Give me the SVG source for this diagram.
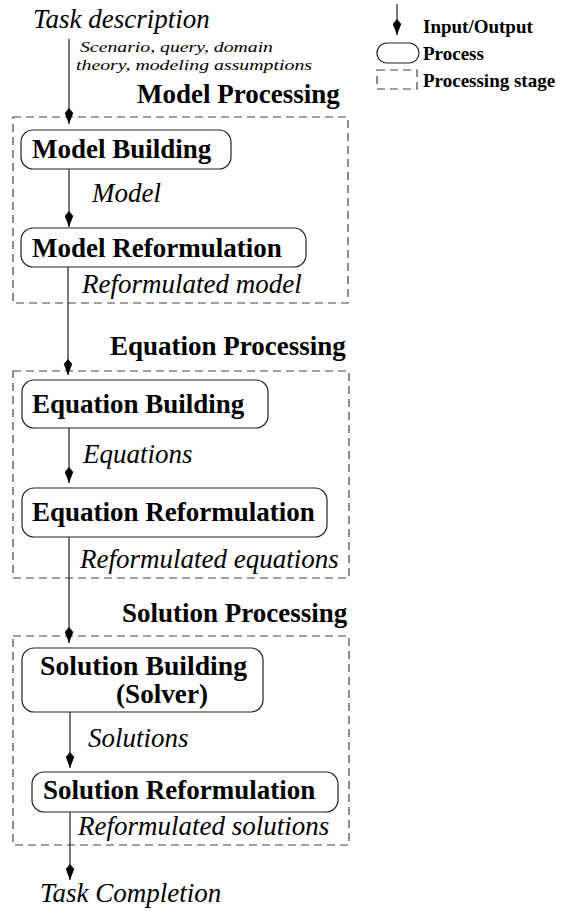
<svg xmlns="http://www.w3.org/2000/svg" width="564" height="911" viewBox="0 0 564 911">
<style>
text{font-family:"Liberation Serif","Times New Roman",serif;fill:#000}
.h{font-size:27px;font-weight:bold}
.b{font-size:27px;font-weight:bold}
.i{font-size:27px;font-style:italic}
.s{font-size:15px;font-style:italic}
.lg{font-size:19px;font-weight:bold}
.box{fill:#fff;stroke:#222;stroke-width:1.2}
.stage{fill:none;stroke:#444;stroke-width:1.2;stroke-dasharray:8 5}
.con{stroke:#222;stroke-width:1.2;fill:none}
</style>
<defs>
<marker id="ah" markerUnits="userSpaceOnUse" viewBox="-17 -5 18 10" refX="0" refY="0" markerWidth="18" markerHeight="10" orient="auto">
<path d="M0,0 L-11,-4.2 L-16,0 L-11,4.2 Z" fill="#000"/>
</marker>
</defs>

<g id="legend">
<line class="con" x1="397" y1="4" x2="397" y2="35" marker-end="url(#ah)"/>
<text class="lg" x="423" y="33">Input/Output</text>
<rect class="box" x="377" y="43" width="42" height="20" rx="10"/>
<text class="lg" x="423" y="60">Process</text>
<rect class="stage" x="377" y="70" width="40" height="19" stroke-dasharray="7 5"/>
<text class="lg" x="423" y="87">Processing stage</text>
</g>

<g id="task-description">
<text class="i" x="33" y="28">Task description</text>
<text class="s" x="80" y="52" textLength="193" lengthAdjust="spacingAndGlyphs">Scenario, query, domain</text>
<text class="s" x="76" y="70" textLength="236" lengthAdjust="spacingAndGlyphs">theory, modeling assumptions</text>
</g>

<g id="model-processing">
<rect class="stage" x="13" y="117" width="335" height="186"/>
<text class="h" x="137" y="103">Model Processing</text>
</g>
<g id="model-building">
<rect class="box" x="21" y="130" width="210" height="39" rx="12"/>
<text class="b" x="32" y="158">Model Building</text>
</g>
<g id="model-reformulation">
<rect class="box" x="21" y="228" width="285" height="39" rx="12"/>
<text class="b" x="32" y="257">Model Reformulation</text>
</g>

<g id="equation-processing">
<rect class="stage" x="13" y="371" width="336" height="207"/>
<text class="h" x="110" y="355">Equation Processing</text>
</g>
<g id="equation-building">
<rect class="box" x="22" y="380" width="246" height="48" rx="12"/>
<text class="b" x="32" y="413">Equation Building</text>
</g>
<g id="equation-reformulation">
<rect class="box" x="22" y="488" width="305" height="49" rx="12"/>
<text class="b" x="32" y="521">Equation Reformulation</text>
</g>

<g id="solution-processing">
<rect class="stage" x="13" y="636" width="336" height="209"/>
<text class="h" x="122" y="622">Solution Processing</text>
</g>
<g id="solution-building">
<rect class="box" x="22" y="648" width="241" height="64" rx="12"/>
<text class="b" x="40" y="675" font-size="22" textLength="207" lengthAdjust="spacingAndGlyphs">Solution Building</text>
<text class="b" x="116" y="703" font-size="22" textLength="92" lengthAdjust="spacingAndGlyphs">(Solver)</text>
</g>
<g id="solution-reformulation">
<rect class="box" x="32" y="772" width="306" height="40" rx="12"/>
<text class="b" x="43" y="799">Solution Reformulation</text>
</g>

<g id="task-completion">
<text class="i" x="40" y="902" font-size="26">Task Completion</text>
</g>

<g id="connectors">
<line class="con" x1="69" y1="39" x2="69" y2="124" marker-end="url(#ah)"/>
<line class="con" x1="69" y1="169" x2="69" y2="227" marker-end="url(#ah)"/>
<line class="con" x1="68" y1="267" x2="68" y2="375" marker-end="url(#ah)"/>
<line class="con" x1="69" y1="428" x2="69" y2="483" marker-end="url(#ah)"/>
<line class="con" x1="69" y1="537" x2="69" y2="643" marker-end="url(#ah)"/>
<line class="con" x1="70" y1="712" x2="70" y2="768" marker-end="url(#ah)"/>
<line class="con" x1="70" y1="812" x2="70" y2="880" marker-end="url(#ah)"/>
<text class="i" x="92" y="202">Model</text>
<text class="i" x="82" y="293">Reformulated model</text>
<text class="i" x="83" y="463">Equations</text>
<text class="i" x="80" y="568">Reformulated equations</text>
<text class="i" x="88" y="747">Solutions</text>
<text class="i" x="78" y="835">Reformulated solutions</text>
</g>
</svg>
